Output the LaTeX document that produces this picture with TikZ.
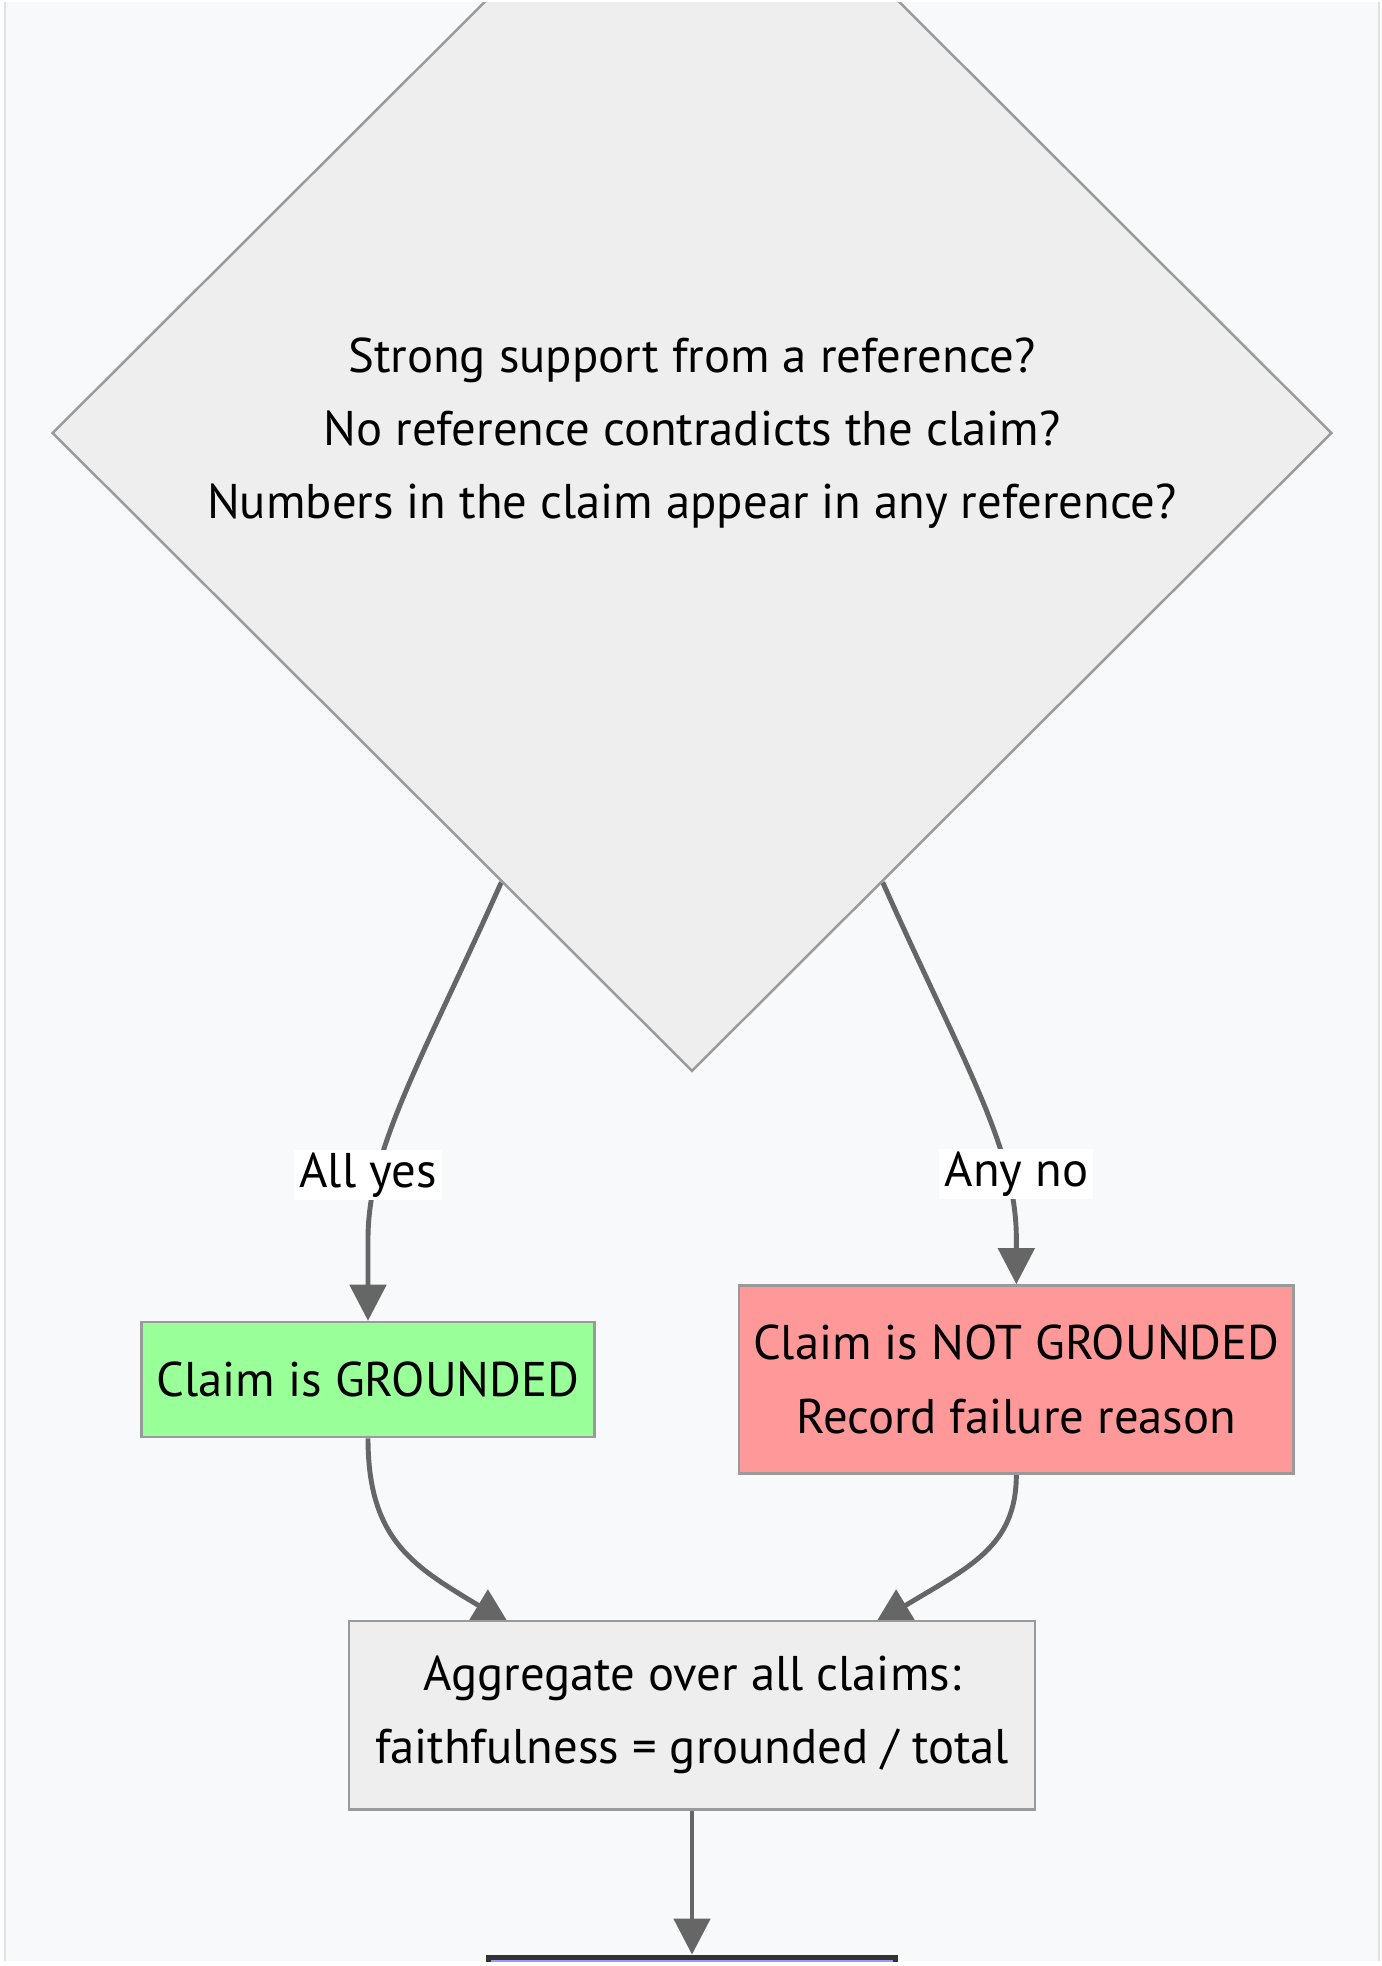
\documentclass[tikz,border=0pt]{standalone}
\usepackage{fontspec}
\setmainfont{PT Sans}
\usetikzlibrary{arrows.meta, positioning, shapes.geometric, calc}
\pgfdeclarelayer{background}
\pgfsetlayers{background,main}
\definecolor{panelbg}{HTML}{F8F9FA}
\definecolor{panelrule}{HTML}{DEE2E6}
\definecolor{nodefill}{HTML}{EEEEEE}
\definecolor{noderule}{HTML}{9A9A9A}
\definecolor{edgegray}{HTML}{666666}
\definecolor{okgreen}{HTML}{99FF99}
\definecolor{failred}{HTML}{FF9999}
\definecolor{donefill}{HTML}{9999FF}
\definecolor{donerule}{HTML}{333333}

\begin{document}
\begin{tikzpicture}[x=0.01cm, y=0.01cm,
      font=\fontsize{13.85pt}{20.8pt}\selectfont,
      box/.style={draw=noderule, fill=nodefill, line width=0.7pt, align=center, inner sep=0pt},
      decision/.style={box, diamond, aspect=1, minimum width=12.79cm, minimum height=12.76cm},
      lbl/.style={fill=white, inner sep=0pt, inner xsep=1.5pt, minimum height=0.5cm},
      flow/.style={draw=edgegray, line width=1.4pt, -{Triangle[length=0.36cm, width=0.36cm]}}]
    \useasboundingbox (0,0) rectangle (1382,-1966);
    \begin{scope}
      \clip (5,-2) rectangle (1379,-1961);
      \node[decision] (check) at (692,-433) {Strong support from a reference?\\No reference contradicts the claim?\\Numbers in the claim appear in any reference?};
      \node[box, fill=okgreen, minimum width=4.53cm, minimum height=1.15cm] (grounded) at (368,-1379.5) {Claim is GROUNDED};
      \node[box, fill=failred, minimum width=5.54cm, minimum height=1.88cm, right=1.42cm of grounded] (notgrounded) {Claim is NOT GROUNDED\\Record failure reason};
      \node[box, minimum width=6.86cm, minimum height=1.88cm, below=5.47cm of check] (aggregate) {Aggregate over all claims:\\faithfulness = grounded / total};
      \node[box, fill=donefill, draw=donerule, line width=1.42pt, minimum width=4.06cm, minimum height=1.15cm, below=1.44cm of aggregate] (score) {};
    \end{scope}
    \node[lbl] (yeslbl) at ($(grounded.north)+(0,146)$) {All yes};
    \node[lbl] (nolbl) at ($(notgrounded.north)+(0,110)$) {Any no};
    % edges sit under the nodes, like the renderer does
    \begin{pgfonlayer}{background}
      \fill[white] (0,0) rectangle (1382,-1966);
      \fill[panelbg] (5,-2) rectangle (1379,-1961);
      \draw[flow] (check.-113) .. controls +(-79,-177) and +(0,90) .. ($(grounded.north)+(0,82)$) -- (grounded.north);
      \draw[flow] (check.-67) .. controls +(79,-177) and +(0,90) .. ($(notgrounded.north)+(0,46)$) -- (notgrounded.north);
      \draw[flow] (grounded.south) .. controls +(0,-103) and +(-94,57) .. ($(aggregate.north)+(-183,-4)$);
      \draw[flow] (notgrounded.south) .. controls +(0,-72) and +(94,57) .. ($(aggregate.north)+(183,-4)$);
      \draw[flow] (aggregate) -- (score);
    \end{pgfonlayer}
    \draw[panelrule, line width=0.7pt] (5,-2) -- (5,-1961) (1379,-2) -- (1379,-1961);
  \end{tikzpicture}
\end{document}
